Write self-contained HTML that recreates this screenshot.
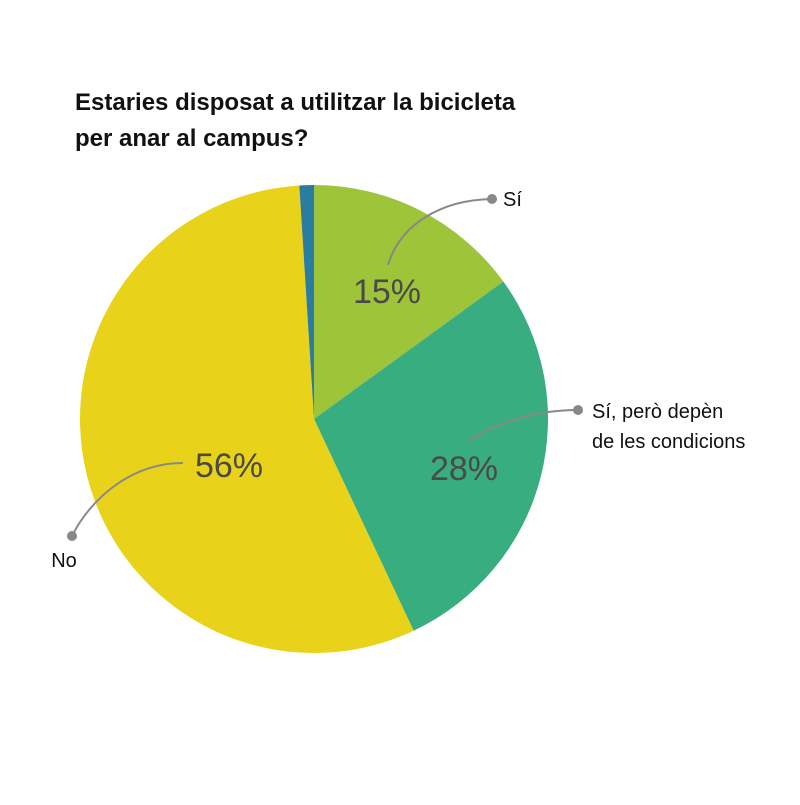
<!DOCTYPE html>
<html><head><meta charset="utf-8"><style>
body{margin:0;background:#fff;}
svg text{font-family:"Liberation Sans","DejaVu Sans",sans-serif;}
</style></head><body>
<svg id="c" width="800" height="800" viewBox="0 0 800 800">
<text x="75" y="110" font-size="24" font-weight="bold" fill="#111">Estaries disposat a utilitzar la bicicleta</text>
<text x="75" y="146" font-size="24" font-weight="bold" fill="#111">per anar al campus?</text>
<g id="slices"></g>
<g id="labels"></g>
</svg>
<script>
const categories=["Sí","Sí, però depèn de les condicions","No","Altres"];
const values=[15,28,56,1];
const printed=["15%","28%","56%",""];
const colors=["#9ec43a","#38ad80","#e8d31a","#2a7ca0"];
const cx=314,cy=419,r=234;
const total=values.reduce((a,b)=>a+b,0);
const g=document.getElementById('slices');
const ns="http://www.w3.org/2000/svg";
function pt(a,rr){return [cx+rr*Math.sin(a),cy-rr*Math.cos(a)];}
let acc=0;const mids=[];
values.forEach((v,i)=>{
  const a0=acc/total*2*Math.PI;acc+=v;const a1=acc/total*2*Math.PI;
  mids.push((a0+a1)/2);
  const p0=pt(a0,r),p1=pt(a1,r);
  const p=document.createElementNS(ns,'path');
  p.setAttribute('d',`M${cx},${cy}L${p0[0]},${p0[1]}A${r},${r} 0 ${a1-a0>Math.PI?1:0} 1 ${p1[0]},${p1[1]}Z`);
  p.setAttribute('fill',colors[i]);
  
  
  g.appendChild(p);
});
const L=document.getElementById('labels');
// label layouts: text position for pct, leader path, dot, category label
const lay=[
 {pct:[387,303],line:"M388,265 C400,225 440,200 492,199",dot:[492,199],lab:[[503,206,"start"]],txt:["Sí"]},
 {pct:[464,480],line:"M468,441 C500,420 540,410 578,410",dot:[578,410],lab:[[592,418,"start"],[592,448,"start"]],txt:["Sí, però depèn","de les condicions"]},
 {pct:[229,477],line:"M183,463 C130,463 90,500 72,536",dot:[72,536],lab:[[64,567,"middle"]],txt:["No"]}
];
lay.forEach((o,i)=>{
  const path=document.createElementNS(ns,'path');
  path.setAttribute('d',o.line);path.setAttribute('fill','none');path.setAttribute('stroke','#888');path.setAttribute('stroke-width','2');
  
  
  L.appendChild(path);
  const c=document.createElementNS(ns,'circle');
  c.setAttribute('cx',o.dot[0]);c.setAttribute('cy',o.dot[1]);c.setAttribute('r','5');c.setAttribute('fill','#888');
  
  
  L.appendChild(c);
  const t=document.createElementNS(ns,'text');
  t.setAttribute('x',o.pct[0]);t.setAttribute('y',o.pct[1]);t.setAttribute('text-anchor','middle');t.setAttribute('font-size','34');t.setAttribute('fill','#4a4a4a');
  t.textContent=printed[i];
  
  
  L.appendChild(t);
  o.lab.forEach((l,j)=>{
    const tt=document.createElementNS(ns,'text');
    tt.setAttribute('x',l[0]);tt.setAttribute('y',l[1]);tt.setAttribute('text-anchor',l[2]);tt.setAttribute('font-size','20');tt.setAttribute('fill','#111');
    tt.textContent=o.txt[j];
    
    
    L.appendChild(tt);
  });
});
</script>
</body></html>
